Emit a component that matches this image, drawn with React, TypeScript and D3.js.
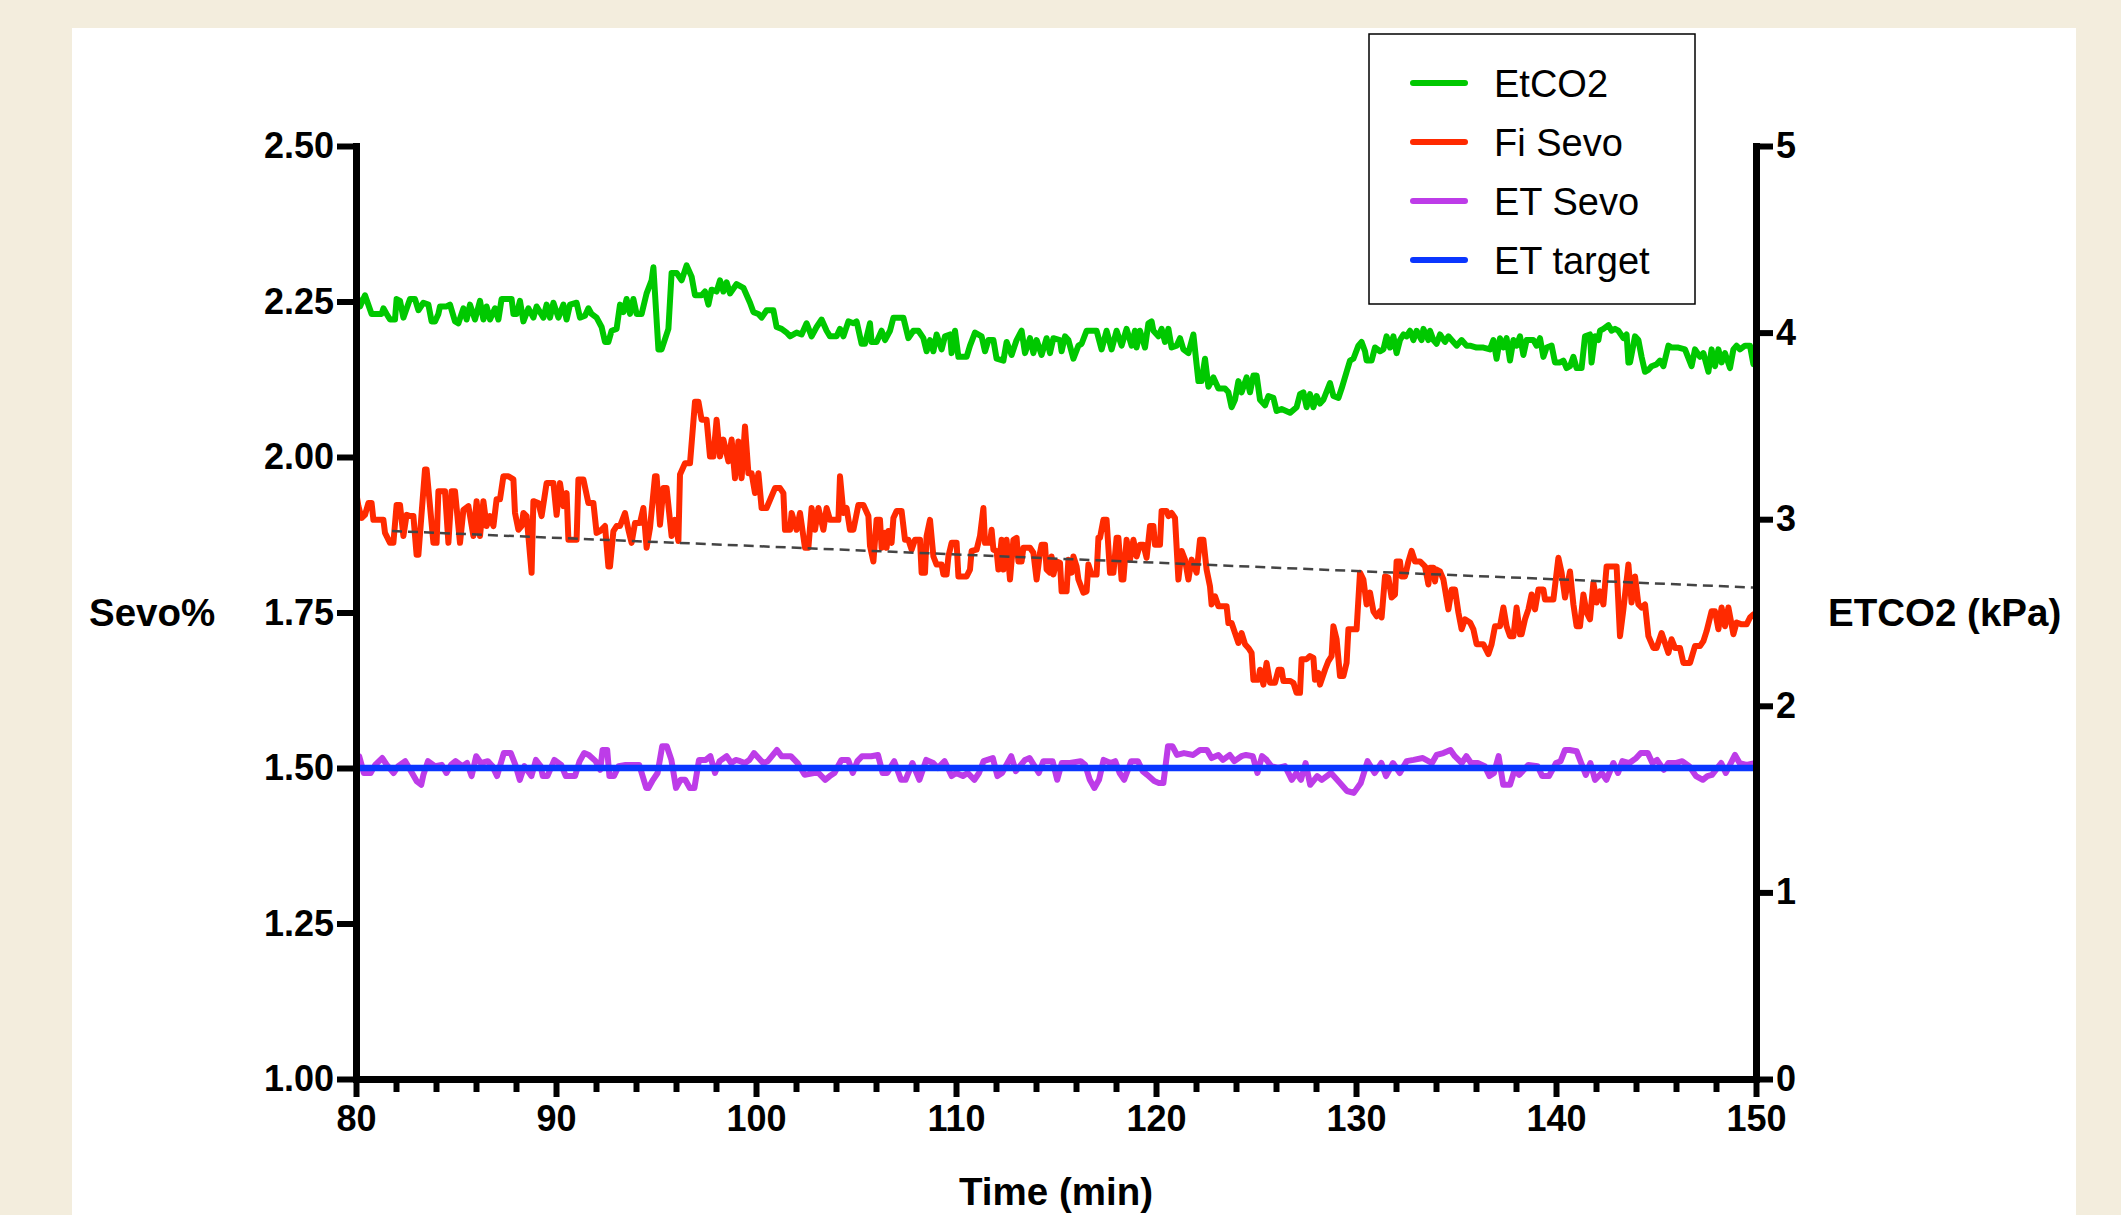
import { useEffect, useRef } from "react";
import * as d3 from "d3";

type Pt = [number, number];

// EtCO2 (kPa, right axis) — [time min, value]
const etco2: Pt[] = [
  [80.0, 4.21], [80.2, 4.14], [80.45, 4.2], [80.78, 4.1], [81.28, 4.1], [81.37, 4.13], [81.53, 4.1], [81.7, 4.07],
  [81.95, 4.07], [82.03, 4.18], [82.2, 4.17], [82.37, 4.08], [82.7, 4.18], [82.95, 4.18], [83.12, 4.12], [83.37, 4.16],
  [83.62, 4.15], [83.78, 4.06], [83.95, 4.06], [84.12, 4.1], [84.2, 4.14], [84.53, 4.14], [84.7, 4.15], [84.95, 4.06],
  [85.12, 4.05], [85.37, 4.13], [85.53, 4.07], [85.7, 4.15], [85.95, 4.07], [86.2, 4.17], [86.37, 4.07], [86.53, 4.14],
  [86.7, 4.07], [86.95, 4.13], [87.12, 4.07], [87.28, 4.18], [87.78, 4.18], [87.87, 4.1], [88.03, 4.1], [88.2, 4.17],
  [88.37, 4.06], [88.62, 4.13], [88.87, 4.08], [89.03, 4.14], [89.37, 4.08], [89.53, 4.15], [89.7, 4.08], [89.87, 4.16],
  [90.12, 4.08], [90.37, 4.15], [90.53, 4.07], [90.7, 4.15], [91.03, 4.16], [91.2, 4.08], [91.45, 4.09], [91.62, 4.13],
  [91.78, 4.1], [92.03, 4.08], [92.28, 4.03], [92.45, 3.95], [92.62, 3.95], [92.78, 4.01], [93.03, 4.02], [93.2, 4.15],
  [93.37, 4.11], [93.53, 4.18], [93.7, 4.1], [93.87, 4.18], [94.03, 4.1], [94.28, 4.1], [94.53, 4.21], [94.78, 4.28],
  [94.87, 4.35], [95.12, 3.91], [95.28, 3.91], [95.62, 4.02], [95.78, 4.32], [96.03, 4.32], [96.28, 4.28], [96.53, 4.36],
  [96.78, 4.3], [96.95, 4.2], [97.28, 4.2], [97.45, 4.22], [97.62, 4.15], [97.78, 4.23], [98.03, 4.22], [98.2, 4.28],
  [98.37, 4.22], [98.53, 4.27], [98.7, 4.21], [99.03, 4.26], [99.37, 4.24], [99.7, 4.16], [99.87, 4.11], [100.12, 4.1],
  [100.28, 4.08], [100.53, 4.12], [100.87, 4.12], [101.03, 4.03], [101.28, 4.02], [101.53, 4.0], [101.7, 3.98], [102.03, 4.0],
  [102.28, 3.99], [102.53, 4.05], [102.78, 3.98], [103.03, 4.03], [103.28, 4.07], [103.53, 4.01], [103.7, 3.98], [104.03, 3.98],
  [104.2, 4.02], [104.37, 3.98], [104.62, 4.06], [104.87, 4.05], [105.03, 4.06], [105.28, 3.94], [105.45, 3.94], [105.7, 4.05],
  [105.78, 3.95], [106.03, 3.95], [106.28, 4.01], [106.45, 3.96], [106.7, 4.01], [106.87, 4.08], [107.37, 4.08], [107.62, 3.97],
  [107.87, 4.01], [108.12, 4.01], [108.37, 3.97], [108.53, 3.9], [108.7, 3.96], [108.87, 3.9], [109.03, 3.99], [109.28, 3.91],
  [109.45, 3.98], [109.7, 3.99], [109.78, 3.89], [109.95, 4.01], [110.12, 3.87], [110.53, 3.87], [110.7, 3.93], [110.95, 4.0],
  [111.28, 3.98], [111.45, 3.9], [111.62, 3.96], [111.87, 3.96], [112.03, 3.86], [112.37, 3.85], [112.53, 3.95], [112.78, 3.88],
  [113.03, 3.96], [113.28, 4.01], [113.45, 3.89], [113.7, 3.97], [113.87, 3.89], [114.03, 3.96], [114.28, 3.88], [114.53, 3.97],
  [114.7, 3.89], [114.87, 3.97], [115.2, 3.96], [115.28, 3.9], [115.45, 3.98], [115.62, 3.96], [115.87, 3.86], [116.12, 3.93],
  [116.28, 3.94], [116.53, 4.01], [117.03, 4.01], [117.28, 3.91], [117.53, 4.01], [117.78, 3.91], [118.03, 4.01], [118.28, 3.93],
  [118.53, 4.02], [118.78, 3.93], [118.95, 4.01], [119.03, 3.92], [119.2, 4.01], [119.45, 3.92], [119.62, 4.05], [119.78, 4.06],
  [119.87, 4.01], [120.12, 3.98], [120.28, 4.02], [120.45, 3.95], [120.62, 4.02], [120.78, 3.92], [121.03, 3.93], [121.2, 3.97],
  [121.37, 3.91], [121.62, 3.89], [121.87, 3.99], [122.03, 3.83], [122.12, 3.74], [122.28, 3.74], [122.45, 3.86], [122.62, 3.71],
  [122.87, 3.76], [123.12, 3.7], [123.45, 3.7], [123.62, 3.68], [123.78, 3.6], [123.95, 3.64], [124.12, 3.74], [124.28, 3.68],
  [124.53, 3.76], [124.7, 3.68], [124.87, 3.77], [125.03, 3.77], [125.2, 3.64], [125.45, 3.61], [125.62, 3.66], [125.87, 3.65],
  [126.03, 3.58], [126.28, 3.59], [126.7, 3.57], [127.03, 3.6], [127.2, 3.67], [127.37, 3.68], [127.53, 3.6], [127.7, 3.67],
  [127.87, 3.6], [128.03, 3.66], [128.2, 3.62], [128.37, 3.64], [128.7, 3.73], [128.87, 3.66], [129.12, 3.65], [129.28, 3.7],
  [129.53, 3.79], [129.7, 3.85], [129.87, 3.86], [130.12, 3.93], [130.28, 3.95], [130.45, 3.9], [130.53, 3.85], [130.78, 3.85],
  [130.95, 3.92], [131.2, 3.9], [131.37, 3.91], [131.53, 3.98], [131.7, 3.92], [131.87, 3.98], [132.03, 3.89], [132.2, 3.96],
  [132.37, 3.99], [132.53, 3.98], [132.7, 4.01], [132.87, 3.96], [133.03, 4.01], [133.28, 3.96], [133.37, 4.02], [133.62, 3.96],
  [133.7, 4.01], [133.87, 3.96], [134.03, 3.94], [134.2, 3.99], [134.45, 3.95], [134.62, 3.98], [134.87, 3.95], [135.03, 3.93],
  [135.28, 3.96], [135.53, 3.93], [135.7, 3.93], [136.03, 3.92], [136.37, 3.92], [136.7, 3.91], [136.87, 3.96], [137.03, 3.86],
  [137.2, 3.97], [137.37, 3.92], [137.53, 3.97], [137.7, 3.85], [137.87, 3.96], [138.03, 3.93], [138.2, 3.98], [138.37, 3.88],
  [138.53, 3.96], [138.87, 3.96], [139.03, 3.93], [139.2, 3.97], [139.37, 3.87], [139.53, 3.92], [139.78, 3.93], [139.95, 3.84],
  [140.2, 3.84], [140.37, 3.85], [140.53, 3.81], [140.7, 3.82], [140.87, 3.87], [141.03, 3.81], [141.28, 3.81], [141.45, 3.98],
  [141.7, 3.99], [141.78, 3.84], [141.95, 3.98], [142.12, 3.96], [142.2, 4.01], [142.37, 4.02], [142.62, 4.04], [142.78, 4.01],
  [142.95, 4.02], [143.12, 4.01], [143.37, 3.97], [143.53, 3.99], [143.62, 3.84], [143.7, 3.84], [143.95, 3.98], [144.12, 3.96],
  [144.28, 3.87], [144.45, 3.79], [144.62, 3.8], [144.78, 3.82], [145.03, 3.83], [145.2, 3.85], [145.37, 3.82], [145.62, 3.93],
  [145.78, 3.92], [146.12, 3.92], [146.45, 3.91], [146.78, 3.82], [146.95, 3.91], [147.2, 3.87], [147.37, 3.89], [147.62, 3.79],
  [147.78, 3.91], [147.95, 3.82], [148.12, 3.91], [148.28, 3.84], [148.45, 3.89], [148.7, 3.81], [148.87, 3.91], [149.03, 3.93],
  [149.2, 3.91], [149.45, 3.93], [149.7, 3.93], [149.87, 3.83], [150.0, 3.87],
];

// Fi Sevo (%, left axis)
const fiSevo: Pt[] = [
  [80.0, 1.945], [80.12, 1.921], [80.28, 1.902], [80.45, 1.907], [80.62, 1.926], [80.78, 1.926], [80.87, 1.899], [81.37, 1.899],
  [81.45, 1.878], [81.7, 1.862], [81.87, 1.862], [82.03, 1.923], [82.2, 1.923], [82.37, 1.873], [82.53, 1.907], [82.7, 1.905],
  [82.87, 1.905], [83.03, 1.843], [83.12, 1.843], [83.45, 1.98], [83.53, 1.98], [83.87, 1.862], [84.03, 1.862], [84.12, 1.945],
  [84.45, 1.945], [84.62, 1.862], [84.78, 1.945], [84.95, 1.945], [85.2, 1.862], [85.37, 1.915], [85.62, 1.921], [85.87, 1.873],
  [86.03, 1.929], [86.2, 1.873], [86.37, 1.929], [86.53, 1.889], [86.7, 1.905], [86.87, 1.889], [87.03, 1.932], [87.2, 1.932],
  [87.37, 1.969], [87.62, 1.969], [87.87, 1.964], [87.95, 1.91], [88.12, 1.883], [88.28, 1.889], [88.37, 1.91], [88.53, 1.905],
  [88.78, 1.814], [88.87, 1.929], [89.12, 1.926], [89.28, 1.905], [89.53, 1.958], [89.87, 1.958], [90.03, 1.907], [90.2, 1.958],
  [90.37, 1.921], [90.53, 1.942], [90.62, 1.867], [91.03, 1.867], [91.12, 1.964], [91.37, 1.964], [91.62, 1.926], [91.87, 1.926],
  [92.03, 1.878], [92.2, 1.881], [92.45, 1.889], [92.62, 1.824], [92.7, 1.824], [92.87, 1.881], [93.03, 1.889], [93.2, 1.889],
  [93.45, 1.91], [93.62, 1.883], [93.78, 1.862], [93.95, 1.894], [94.2, 1.894], [94.37, 1.918], [94.53, 1.854], [94.7, 1.886],
  [94.95, 1.969], [95.03, 1.969], [95.2, 1.891], [95.37, 1.95], [95.53, 1.95], [95.78, 1.873], [95.95, 1.899], [96.12, 1.865],
  [96.2, 1.972], [96.45, 1.99], [96.7, 1.99], [96.95, 2.089], [97.12, 2.089], [97.28, 2.06], [97.53, 2.06], [97.7, 2.001],
  [97.87, 2.001], [98.03, 2.06], [98.2, 2.001], [98.37, 2.028], [98.62, 1.993], [98.78, 2.028], [98.95, 1.966], [99.12, 2.025],
  [99.28, 1.966], [99.45, 2.049], [99.62, 1.974], [99.78, 1.974], [99.95, 1.942], [100.12, 1.974], [100.28, 1.918], [100.53, 1.918],
  [100.95, 1.95], [101.2, 1.95], [101.37, 1.942], [101.45, 1.883], [101.7, 1.883], [101.78, 1.91], [102.03, 1.883], [102.2, 1.91],
  [102.45, 1.854], [102.62, 1.854], [102.78, 1.918], [102.95, 1.883], [103.12, 1.918], [103.37, 1.883], [103.53, 1.918], [103.7, 1.899],
  [104.12, 1.899], [104.2, 1.969], [104.37, 1.91], [104.53, 1.918], [104.7, 1.883], [104.87, 1.883], [105.12, 1.923], [105.37, 1.923],
  [105.62, 1.905], [105.7, 1.857], [105.87, 1.832], [106.03, 1.899], [106.2, 1.899], [106.28, 1.854], [106.45, 1.878], [106.53, 1.854],
  [106.62, 1.881], [106.78, 1.862], [106.87, 1.902], [107.03, 1.913], [107.28, 1.913], [107.45, 1.867], [107.62, 1.867], [107.78, 1.851],
  [107.95, 1.867], [108.2, 1.867], [108.28, 1.814], [108.45, 1.814], [108.53, 1.873], [108.7, 1.899], [108.87, 1.84], [109.03, 1.827],
  [109.28, 1.827], [109.37, 1.811], [109.53, 1.811], [109.62, 1.84], [109.78, 1.862], [110.03, 1.862], [110.12, 1.808], [110.53, 1.808],
  [110.7, 1.819], [110.78, 1.849], [111.03, 1.851], [111.2, 1.873], [111.37, 1.918], [111.45, 1.862], [111.7, 1.862], [111.78, 1.883],
  [111.87, 1.851], [112.03, 1.849], [112.12, 1.819], [112.28, 1.867], [112.37, 1.819], [112.53, 1.867], [112.7, 1.803], [112.87, 1.867],
  [113.03, 1.87], [113.12, 1.832], [113.28, 1.832], [113.37, 1.854], [113.7, 1.854], [113.87, 1.846], [114.03, 1.803], [114.2, 1.846],
  [114.28, 1.859], [114.45, 1.859], [114.53, 1.819], [114.7, 1.814], [114.78, 1.84], [114.87, 1.811], [115.03, 1.832], [115.2, 1.83],
  [115.28, 1.784], [115.53, 1.784], [115.62, 1.835], [115.78, 1.814], [115.87, 1.84], [116.03, 1.824], [116.12, 1.803], [116.37, 1.782],
  [116.53, 1.784], [116.62, 1.827], [116.78, 1.811], [117.03, 1.811], [117.12, 1.87], [117.2, 1.87], [117.37, 1.899], [117.53, 1.899],
  [117.7, 1.814], [117.87, 1.814], [118.03, 1.87], [118.12, 1.87], [118.28, 1.803], [118.37, 1.803], [118.53, 1.867], [118.7, 1.835],
  [118.87, 1.867], [119.03, 1.84], [119.2, 1.859], [119.37, 1.859], [119.53, 1.838], [119.7, 1.889], [119.87, 1.889], [119.95, 1.859],
  [120.2, 1.859], [120.28, 1.913], [120.53, 1.913], [120.62, 1.905], [120.78, 1.91], [120.95, 1.902], [121.12, 1.803], [121.28, 1.849],
  [121.45, 1.835], [121.62, 1.803], [121.78, 1.835], [122.03, 1.814], [122.2, 1.867], [122.37, 1.867], [122.53, 1.819], [122.7, 1.792],
  [122.78, 1.763], [122.95, 1.776], [123.12, 1.76], [123.53, 1.76], [123.62, 1.733], [123.78, 1.733], [123.95, 1.717], [124.12, 1.701],
  [124.28, 1.717], [124.45, 1.699], [124.62, 1.693], [124.78, 1.685], [124.87, 1.642], [125.12, 1.642], [125.2, 1.658], [125.37, 1.634],
  [125.53, 1.669], [125.7, 1.637], [125.95, 1.637], [126.12, 1.658], [126.28, 1.658], [126.37, 1.64], [126.7, 1.64], [126.87, 1.637],
  [127.03, 1.621], [127.2, 1.621], [127.28, 1.675], [127.53, 1.675], [127.7, 1.68], [127.87, 1.677], [127.95, 1.642], [128.12, 1.653],
  [128.2, 1.634], [128.45, 1.658], [128.62, 1.672], [128.78, 1.68], [128.87, 1.728], [129.03, 1.707], [129.2, 1.648], [129.37, 1.648],
  [129.53, 1.669], [129.62, 1.723], [129.87, 1.723], [130.03, 1.723], [130.2, 1.814], [130.37, 1.803], [130.53, 1.763], [130.7, 1.782],
  [130.87, 1.752], [131.03, 1.744], [131.2, 1.752], [131.28, 1.742], [131.45, 1.808], [131.62, 1.806], [131.78, 1.774], [131.95, 1.779],
  [132.03, 1.832], [132.2, 1.832], [132.28, 1.808], [132.45, 1.808], [132.62, 1.832], [132.78, 1.849], [132.95, 1.832], [133.2, 1.832],
  [133.45, 1.824], [133.62, 1.795], [133.7, 1.822], [133.87, 1.822], [133.95, 1.8], [134.03, 1.819], [134.2, 1.816], [134.37, 1.803],
  [134.62, 1.755], [134.78, 1.787], [134.95, 1.787], [135.12, 1.75], [135.28, 1.723], [135.45, 1.739], [135.7, 1.734], [135.87, 1.723],
  [136.03, 1.699], [136.37, 1.699], [136.62, 1.683], [136.78, 1.699], [136.95, 1.728], [137.2, 1.728], [137.37, 1.758], [137.53, 1.728],
  [137.7, 1.712], [137.87, 1.712], [138.03, 1.758], [138.2, 1.715], [138.28, 1.715], [138.45, 1.739], [138.62, 1.755], [138.78, 1.779],
  [138.95, 1.755], [139.12, 1.787], [139.37, 1.787], [139.45, 1.771], [139.87, 1.771], [140.12, 1.838], [140.28, 1.814], [140.45, 1.774],
  [140.7, 1.816], [140.87, 1.763], [141.03, 1.728], [141.2, 1.728], [141.37, 1.779], [141.53, 1.75], [141.7, 1.739], [141.87, 1.798],
  [142.03, 1.766], [142.2, 1.784], [142.37, 1.763], [142.53, 1.824], [143.03, 1.824], [143.2, 1.712], [143.37, 1.755], [143.62, 1.827],
  [143.78, 1.766], [143.95, 1.808], [144.12, 1.763], [144.28, 1.758], [144.45, 1.763], [144.62, 1.712], [144.87, 1.693], [145.03, 1.693],
  [145.28, 1.717], [145.45, 1.701], [145.62, 1.685], [145.78, 1.707], [145.95, 1.693], [146.2, 1.693], [146.37, 1.669], [146.7, 1.669],
  [146.95, 1.696], [147.2, 1.696], [147.37, 1.704], [147.53, 1.72], [147.78, 1.752], [147.95, 1.752], [148.12, 1.723], [148.28, 1.758],
  [148.45, 1.728], [148.62, 1.758], [148.87, 1.715], [149.03, 1.734], [149.28, 1.731], [149.53, 1.731], [149.7, 1.742], [149.87, 1.747],
  [150.0, 1.742],
];

// ET Sevo (%, left axis)
const etSevo: Pt[] = [
  [80.0, 1.489], [80.16, 1.519], [80.39, 1.492], [80.73, 1.492], [80.96, 1.505], [81.31, 1.516], [81.54, 1.505], [81.88, 1.492],
  [82.11, 1.503], [82.46, 1.511], [82.8, 1.492], [83.03, 1.479], [83.26, 1.473], [83.37, 1.489], [83.6, 1.511], [83.95, 1.503],
  [84.29, 1.505], [84.52, 1.492], [84.75, 1.505], [84.98, 1.511], [85.32, 1.503], [85.55, 1.508], [85.78, 1.487], [86.01, 1.519],
  [86.24, 1.508], [86.59, 1.511], [86.82, 1.503], [87.05, 1.487], [87.39, 1.524], [87.74, 1.524], [87.97, 1.505], [88.19, 1.481],
  [88.42, 1.503], [88.77, 1.487], [89.0, 1.513], [89.23, 1.503], [89.34, 1.487], [89.57, 1.487], [89.92, 1.513], [90.26, 1.505],
  [90.49, 1.487], [90.95, 1.487], [91.18, 1.511], [91.41, 1.524], [91.64, 1.521], [91.98, 1.511], [92.21, 1.497], [92.33, 1.529],
  [92.56, 1.529], [92.67, 1.487], [92.9, 1.487], [93.13, 1.503], [93.48, 1.505], [94.16, 1.505], [94.51, 1.468], [94.62, 1.468],
  [94.85, 1.481], [95.08, 1.492], [95.31, 1.535], [95.54, 1.535], [95.77, 1.513], [96.0, 1.468], [96.23, 1.481], [96.46, 1.481],
  [96.69, 1.468], [96.92, 1.468], [97.15, 1.513], [97.49, 1.513], [97.72, 1.519], [97.95, 1.492], [98.18, 1.511], [98.53, 1.519],
  [98.76, 1.508], [98.99, 1.513], [99.21, 1.511], [99.44, 1.508], [99.67, 1.513], [99.9, 1.524], [100.13, 1.516], [100.36, 1.508],
  [100.59, 1.511], [101.05, 1.529], [101.28, 1.519], [101.74, 1.519], [102.08, 1.508], [102.43, 1.489], [102.89, 1.492], [103.12, 1.492],
  [103.46, 1.481], [103.69, 1.487], [103.92, 1.492], [104.27, 1.513], [104.61, 1.513], [104.84, 1.492], [105.07, 1.511], [105.3, 1.519],
  [105.76, 1.519], [106.1, 1.521], [106.33, 1.492], [106.56, 1.492], [106.91, 1.511], [107.25, 1.481], [107.48, 1.481], [107.82, 1.508],
  [108.17, 1.481], [108.51, 1.513], [108.86, 1.508], [109.09, 1.5], [109.43, 1.511], [109.78, 1.487], [110.01, 1.492], [110.35, 1.487],
  [110.58, 1.492], [110.92, 1.481], [111.15, 1.492], [111.38, 1.511], [111.84, 1.516], [112.07, 1.487], [112.3, 1.492], [112.76, 1.519],
  [112.99, 1.495], [113.45, 1.513], [113.68, 1.516], [114.14, 1.492], [114.37, 1.511], [114.83, 1.511], [115.06, 1.481], [115.29, 1.508],
  [115.7, 1.508], [116.23, 1.511], [116.46, 1.505], [116.69, 1.481], [116.92, 1.468], [117.15, 1.481], [117.38, 1.513], [117.73, 1.508],
  [117.96, 1.511], [118.18, 1.492], [118.41, 1.481], [118.76, 1.511], [119.1, 1.511], [119.33, 1.495], [119.56, 1.489], [119.91, 1.479],
  [120.14, 1.476], [120.37, 1.476], [120.6, 1.535], [120.82, 1.535], [121.05, 1.521], [121.4, 1.524], [121.86, 1.521], [122.2, 1.529],
  [122.55, 1.529], [122.78, 1.516], [123.12, 1.521], [123.35, 1.513], [123.69, 1.521], [123.92, 1.511], [124.27, 1.519], [124.5, 1.521],
  [124.84, 1.519], [125.07, 1.492], [125.3, 1.519], [125.53, 1.513], [125.76, 1.503], [126.11, 1.5], [126.45, 1.503], [126.79, 1.481],
  [127.02, 1.492], [127.25, 1.481], [127.48, 1.508], [127.71, 1.473], [128.06, 1.487], [128.29, 1.481], [128.75, 1.492], [129.2, 1.476],
  [129.55, 1.463], [129.89, 1.46], [130.24, 1.476], [130.58, 1.511], [130.93, 1.492], [131.27, 1.508], [131.5, 1.487], [131.85, 1.508],
  [132.19, 1.492], [132.53, 1.511], [132.88, 1.513], [133.34, 1.516], [133.8, 1.508], [134.03, 1.521], [134.37, 1.524], [134.72, 1.529],
  [134.94, 1.519], [135.29, 1.508], [135.52, 1.519], [135.75, 1.508], [136.09, 1.508], [136.44, 1.503], [136.67, 1.487], [136.9, 1.492],
  [137.13, 1.519], [137.36, 1.473], [137.7, 1.473], [137.93, 1.497], [138.16, 1.489], [138.62, 1.505], [139.08, 1.503], [139.31, 1.487],
  [139.65, 1.487], [140.0, 1.508], [140.23, 1.511], [140.45, 1.529], [140.68, 1.529], [141.03, 1.527], [141.26, 1.508], [141.49, 1.489],
  [141.72, 1.508], [141.95, 1.481], [142.29, 1.492], [142.52, 1.481], [142.87, 1.508], [143.1, 1.492], [143.32, 1.511], [143.67, 1.508],
  [144.01, 1.516], [144.24, 1.524], [144.59, 1.524], [144.82, 1.508], [145.05, 1.513], [145.39, 1.497], [145.62, 1.508], [145.97, 1.508],
  [146.31, 1.511], [146.66, 1.503], [147.0, 1.487], [147.34, 1.481], [147.57, 1.487], [147.8, 1.489], [148.26, 1.508], [148.49, 1.492],
  [148.95, 1.521], [149.18, 1.508], [149.52, 1.505], [150.0, 1.508],
];

const etTarget: Pt[] = [[80, 1.5], [150, 1.5]];
const fiTrend: Pt[] = [[81.8, 1.881], [150, 1.79]];

const leftTicks = [1.0, 1.25, 1.5, 1.75, 2.0, 2.25, 2.5];
const rightTicks = [0, 1, 2, 3, 4, 5];
const timeTicks = [80, 90, 100, 110, 120, 130, 140, 150];
const minorTimeTicks = [82, 84, 86, 88, 92, 94, 96, 98, 102, 104, 106, 108, 112, 114, 116, 118,
  122, 124, 126, 128, 132, 134, 136, 138, 142, 144, 146, 148];

const legendLabels = ["EtCO2", "Fi Sevo", "ET Sevo", "ET target"];
const legendColors = ["#00c800", "#ff2a00", "#bd3ce8", "#0a36ff"];

const W = 2121;
const H = 1215;
const FONT = "'Liberation Sans', Arial, Helvetica, sans-serif";

export default function App() {
  const svgRef = useRef<SVGSVGElement>(null);

  useEffect(() => {
    const svg = svgRef.current;
    if (!svg) return;
    const root = d3.select(svg);
    root.selectAll("*").remove();

    const x = d3.scaleLinear().domain([80, 150]).range([356, 1756]);
    const yL = d3.scaleLinear().domain([1, 2.5]).range([1079, 146]);
    const yR = d3.scaleLinear().domain([0, 5]).range([1079, 146]);

    // background + white panel
    root.append("rect").attr("width", W).attr("height", H).attr("fill", "#f3eddd");
    root.append("rect").attr("x", 72).attr("y", 28).attr("width", 2004).attr("height", H - 28).attr("fill", "#fff");

    const lineL = d3.line<Pt>().x((d) => x(d[0])).y((d) => yL(d[1]));
    const lineR = d3.line<Pt>().x((d) => x(d[0])).y((d) => yR(d[1]));

    const series = root.append("g").attr("fill", "none").attr("stroke-linejoin", "round");
    series.append("path").attr("d", lineR(etco2)).attr("stroke", legendColors[0]).attr("stroke-width", 6);
    series.append("path").attr("d", lineL(fiSevo)).attr("stroke", legendColors[1]).attr("stroke-width", 6);
    series.append("path").attr("d", lineL(fiTrend)).attr("stroke", "#444").attr("stroke-width", 2.5)
      .attr("stroke-dasharray", "10 6");
    series.append("path").attr("d", lineL(etSevo)).attr("stroke", legendColors[2]).attr("stroke-width", 6);
    series.append("path").attr("d", lineL(etTarget)).attr("stroke", legendColors[3]).attr("stroke-width", 6.5)
      .attr("stroke-linecap", "round");

    const styleAxis = (g: d3.Selection<SVGGElement, unknown, null, undefined>) => {
      g.attr("font-family", FONT).attr("font-size", 36).attr("font-weight", "bold");
      g.select(".domain").attr("stroke-width", 7).attr("stroke-linecap", "square");
      g.selectAll(".tick line").attr("stroke-width", 6);
      g.selectAll(".tick text").attr("fill", "#000");
    };

    // bottom axis: minor ticks then major ticks
    root.append("g")
      .attr("transform", "translate(0,1079)")
      .call(d3.axisBottom(x).tickValues(minorTimeTicks).tickSize(13).tickFormat(() => ""))
      .call((g) => g.select(".domain").remove())
      .selectAll(".tick line").attr("stroke-width", 6);

    root.append("g")
      .attr("transform", "translate(0,1079)")
      .call(d3.axisBottom(x).tickValues(timeTicks).tickSize(18).tickSizeOuter(0).tickPadding(8).tickFormat(d3.format("d")))
      .call(styleAxis);

    root.append("g")
      .attr("transform", "translate(356,0)")
      .call(d3.axisLeft(yL).tickValues(leftTicks).tickSize(19).tickSizeOuter(0).tickPadding(3).tickFormat(d3.format(".2f")))
      .call(styleAxis);

    root.append("g")
      .attr("transform", "translate(1756,0)")
      .call(d3.axisRight(yR).tickValues(rightTicks).tickSize(17).tickSizeOuter(0).tickPadding(3).tickFormat(d3.format("d")))
      .call(styleAxis);

    // axis titles
    const titles = root.append("g").attr("font-family", FONT).attr("font-size", 38.5).attr("font-weight", "bold");
    titles.append("text").attr("x", 89).attr("y", 626).text("Sevo%");
    titles.append("text").attr("x", 1828).attr("y", 626).text("ETCO2 (kPa)");
    titles.append("text").attr("x", 1056).attr("y", 1205).attr("text-anchor", "middle").text("Time (min)");

    // legend
    const legend = root.append("g").attr("font-family", FONT).attr("font-size", 38);
    legend.append("rect").attr("x", 1369).attr("y", 34).attr("width", 326).attr("height", 270)
      .attr("fill", "#fff").attr("stroke", "#000").attr("stroke-width", 1.5);
    const rowY = d3.scalePoint<string>().domain(legendLabels).range([83, 260]);
    legendLabels.forEach((label, i) => {
      const y = rowY(label) ?? 0;
      legend.append("line").attr("x1", 1413).attr("x2", 1465).attr("y1", y).attr("y2", y)
        .attr("stroke", legendColors[i]).attr("stroke-width", 6).attr("stroke-linecap", "round");
      legend.append("text").attr("x", 1494).attr("y", y + 14).attr("fill", "#000").text(label);
    });
  }, []);

  return (
    <div style={{ position: "absolute", left: 0, top: 0, width: W, height: H, overflow: "hidden" }}>
      <svg ref={svgRef} width={W} height={H} />
    </div>
  );
}
